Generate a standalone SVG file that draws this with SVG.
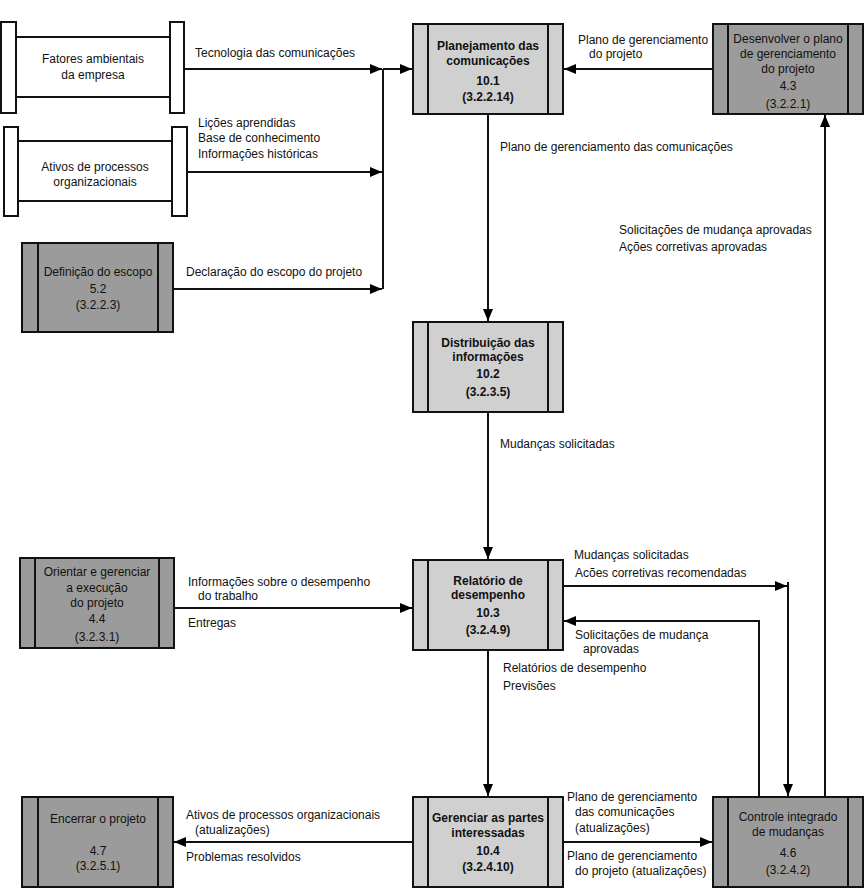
<svg xmlns="http://www.w3.org/2000/svg" width="864" height="888" viewBox="0 0 864 888">
<defs>
<marker id="ah" markerUnits="userSpaceOnUse" markerWidth="13" markerHeight="11" refX="12" refY="5" orient="auto">
<path d="M0,0 L12,5 L0,10 z" fill="#000"/>
</marker>
<style>
text{font-family:"Liberation Sans",Arial,sans-serif;font-size:12px;fill:#111}
.b{font-weight:bold;text-anchor:middle}
.c{text-anchor:middle}
.light{fill:#d0d0d0;stroke:#111;stroke-width:2}
.dark{fill:#9b9b9b;stroke:#111;stroke-width:2}
.bar{fill:#fff;stroke:#111;stroke-width:2}
.ln{stroke:#111;stroke-width:2;fill:none}
.ar{stroke:#111;stroke-width:2;fill:none;marker-end:url(#ah)}
</style>
</defs>
<rect width="864" height="888" fill="#fff"/>

<g id="fatores">
<line class="ln" x1="16" y1="37" x2="170" y2="37"/>
<line class="ln" x1="16" y1="97" x2="170" y2="97"/>
<rect class="bar" x="1" y="22" width="15" height="91"/>
<rect class="bar" x="170" y="22" width="14" height="91"/>
<text class="c" x="93" y="63">Fatores ambientais</text>
<text class="c" x="93" y="79">da empresa</text>
</g>

<g id="ativos">
<line class="ln" x1="18" y1="141" x2="172" y2="141"/>
<line class="ln" x1="18" y1="201" x2="172" y2="201"/>
<rect class="bar" x="4" y="127" width="14" height="89"/>
<rect class="bar" x="172" y="127" width="15" height="89"/>
<text class="c" x="95" y="171">Ativos de processos</text>
<text class="c" x="95" y="186">organizacionais</text>
</g>

<g id="escopo">
<rect class="dark" x="22" y="243" width="151" height="89"/>
<line class="ln" x1="38" y1="243" x2="38" y2="332"/>
<line class="ln" x1="158" y1="243" x2="158" y2="332"/>
<text class="c" x="98" y="276">Definição do escopo</text>
<text class="c" x="98" y="293">5.2</text>
<text class="c" x="98" y="309">(3.2.2.3)</text>
</g>

<g id="planejamento">
<rect class="light" x="413" y="24" width="150" height="90"/>
<line class="ln" x1="428" y1="24" x2="428" y2="114"/>
<line class="ln" x1="548" y1="24" x2="548" y2="114"/>
<text class="b" x="488" y="50">Planejamento das</text>
<text class="b" x="488" y="65">comunicações</text>
<text class="b" x="488" y="85">10.1</text>
<text class="b" x="488" y="101">(3.2.2.14)</text>
</g>

<g id="desenvolver">
<rect class="dark" x="713" y="24" width="150" height="90"/>
<line class="ln" x1="728" y1="24" x2="728" y2="114"/>
<line class="ln" x1="848" y1="24" x2="848" y2="114"/>
<text class="c" x="788" y="43">Desenvolver o plano</text>
<text class="c" x="788" y="58">de gerenciamento</text>
<text class="c" x="788" y="73">do projeto</text>
<text class="c" x="788" y="90">4.3</text>
<text class="c" x="788" y="108">(3.2.2.1)</text>
</g>

<g id="distribuicao">
<rect class="light" x="413" y="322" width="150" height="90"/>
<line class="ln" x1="428" y1="322" x2="428" y2="412"/>
<line class="ln" x1="548" y1="322" x2="548" y2="412"/>
<text class="b" x="488" y="347">Distribuição das</text>
<text class="b" x="488" y="361">informações</text>
<text class="b" x="488" y="378">10.2</text>
<text class="b" x="488" y="396">(3.2.3.5)</text>
</g>

<g id="orientar">
<rect class="dark" x="20" y="558" width="154" height="90"/>
<line class="ln" x1="35" y1="558" x2="35" y2="648"/>
<line class="ln" x1="159" y1="558" x2="159" y2="648"/>
<text class="c" x="97" y="576">Orientar e gerenciar</text>
<text class="c" x="97" y="592">a execução</text>
<text class="c" x="97" y="607">do projeto</text>
<text class="c" x="97" y="623">4.4</text>
<text class="c" x="97" y="641">(3.2.3.1)</text>
</g>

<g id="relatorio">
<rect class="light" x="413" y="560" width="150" height="90"/>
<line class="ln" x1="428" y1="560" x2="428" y2="650"/>
<line class="ln" x1="548" y1="560" x2="548" y2="650"/>
<text class="b" x="488" y="585">Relatório de</text>
<text class="b" x="488" y="599">desempenho</text>
<text class="b" x="488" y="617">10.3</text>
<text class="b" x="488" y="634">(3.2.4.9)</text>
</g>

<g id="encerrar">
<rect class="dark" x="22" y="797" width="151" height="90"/>
<line class="ln" x1="38" y1="797" x2="38" y2="887"/>
<line class="ln" x1="158" y1="797" x2="158" y2="887"/>
<text class="c" x="98" y="823">Encerrar o projeto</text>
<text class="c" x="98" y="855">4.7</text>
<text class="c" x="98" y="870">(3.2.5.1)</text>
</g>

<g id="gerenciar">
<rect class="light" x="413" y="797" width="150" height="90"/>
<line class="ln" x1="428" y1="797" x2="428" y2="887"/>
<line class="ln" x1="548" y1="797" x2="548" y2="887"/>
<text class="b" x="488" y="822">Gerenciar as partes</text>
<text class="b" x="488" y="837">interessadas</text>
<text class="b" x="488" y="855">10.4</text>
<text class="b" x="488" y="871">(3.2.4.10)</text>
</g>

<g id="controle">
<rect class="dark" x="713" y="797" width="150" height="90"/>
<line class="ln" x1="728" y1="797" x2="728" y2="887"/>
<line class="ln" x1="848" y1="797" x2="848" y2="887"/>
<text class="c" x="788" y="821">Controle integrado</text>
<text class="c" x="788" y="836">de mudanças</text>
<text class="c" x="788" y="857">4.6</text>
<text class="c" x="788" y="874">(3.2.4.2)</text>
</g>

<g id="connectors">
<line class="ar" x1="184" y1="69" x2="382" y2="69"/>
<line class="ar" x1="187" y1="172" x2="382" y2="172"/>
<line class="ar" x1="173" y1="289" x2="382" y2="289"/>
<line class="ln" x1="383" y1="69" x2="383" y2="289"/>
<line class="ar" x1="383" y1="69" x2="412" y2="69"/>
<line class="ar" x1="713" y1="69" x2="564" y2="69"/>
<line class="ar" x1="488" y1="114" x2="488" y2="321"/>
<line class="ar" x1="488" y1="412" x2="488" y2="559"/>
<line class="ar" x1="174" y1="608" x2="412" y2="608"/>
<line class="ar" x1="563" y1="586" x2="787" y2="586"/>
<line class="ar" x1="788" y1="582" x2="788" y2="796"/>
<polyline class="ar" points="759,797 759,621 564,621"/>
<line class="ar" x1="488" y1="650" x2="488" y2="796"/>
<line class="ar" x1="413" y1="842" x2="174" y2="842"/>
<line class="ar" x1="563" y1="842" x2="712" y2="842"/>
<line class="ar" x1="825" y1="797" x2="825" y2="115"/>
</g>

<g id="labels">
<text x="195" y="57">Tecnologia das comunicações</text>
<text x="198" y="127">Lições aprendidas</text>
<text x="198" y="142">Base de conhecimento</text>
<text x="198" y="158">Informações históricas</text>
<text x="186" y="276">Declaração do escopo do projeto</text>
<text x="578" y="44">Plano de gerenciamento</text>
<text x="589" y="58">do projeto</text>
<text x="500" y="151">Plano de gerenciamento das comunicações</text>
<text x="619" y="234">Solicitações de mudança aprovadas</text>
<text x="619" y="251">Ações corretivas aprovadas</text>
<text x="500" y="448">Mudanças solicitadas</text>
<text x="574" y="559">Mudanças solicitadas</text>
<text x="575" y="577">Acões corretivas recomendadas</text>
<text x="575" y="639">Solicitações de mudança</text>
<text x="583" y="653">aprovadas</text>
<text x="503" y="672">Relatórios de desempenho</text>
<text x="503" y="690">Previsões</text>
<text x="188" y="586">Informações sobre o desempenho</text>
<text x="198" y="600">do trabalho</text>
<text x="188" y="627">Entregas</text>
<text x="186" y="819">Ativos de processos organizacionais</text>
<text x="195" y="834">(atualizações)</text>
<text x="186" y="861">Problemas resolvidos</text>
<text x="567" y="801">Plano de gerenciamento</text>
<text x="575" y="816">das comunicações</text>
<text x="575" y="832">(atualizações)</text>
<text x="567" y="860">Plano de gerenciamento</text>
<text x="575" y="875">do projeto (atualizações)</text>
</g>
</svg>
